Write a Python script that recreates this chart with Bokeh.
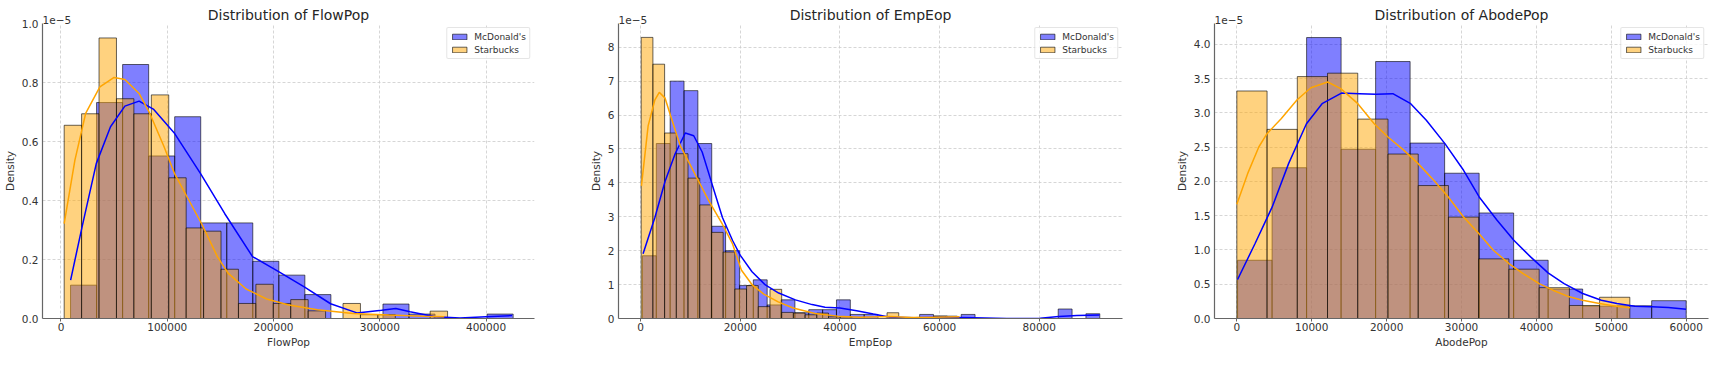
import numpy as np
from bokeh.plotting import figure
from bokeh.layouts import row
from bokeh.models import (FixedTicker, NumeralTickFormatter, Range1d, Title,
                          Legend, LegendItem)
from bokeh.embed import file_html
from bokeh.resources import INLINE

# ---------------- data (densities in units of 1e-5) ----------------
# FlowPop
flow_mc_bin_start, flow_mc_bin_width = 9000, 24500
flow_mc_density = [0.113, 0.732, 0.861, 0.551, 0.684, 0.324, 0.324, 0.194, 0.147,
                   0.081, 0.0, 0.0, 0.049, 0.015, 0.0, 0.0, 0.015]
flow_sb_bin_start, flow_sb_bin_width = 3000, 16400
flow_sb_density = [0.655, 0.694, 0.951, 0.745, 0.694, 0.758, 0.477, 0.307, 0.296,
                   0.167, 0.051, 0.116, 0.051, 0.064, 0.026, 0.0, 0.051, 0.013,
                   0.013, 0.0, 0.0, 0.025]
flow_mc_kde_x = [9060, 19800, 33200, 46600, 60100, 73500, 86900, 107000, 131500,
                 154000, 180200, 204400, 228900, 253700, 278500, 301700, 315100,
                 328500, 352000, 375500, 400000, 424500]
flow_mc_kde_y = [0.13, 0.31, 0.525, 0.65, 0.72, 0.737, 0.71, 0.627, 0.49, 0.356,
                 0.21, 0.16, 0.107, 0.05, 0.019, 0.028, 0.034, 0.023, 0.006,
                 0.002, 0.006, 0.010]
flow_sb_kde_x = [3000, 13100, 23200, 36600, 50000, 60100, 73500, 83600, 97000,
                 107000, 120500, 132200, 147300, 157400, 174200, 194300, 214400,
                 241300, 274800, 308400, 342000, 360700]
flow_sb_kde_y = [0.322, 0.537, 0.695, 0.785, 0.817, 0.81, 0.763, 0.695, 0.582,
                 0.49, 0.40, 0.322, 0.209, 0.153, 0.10, 0.065, 0.046, 0.03,
                 0.017, 0.012, 0.008, 0.006]

# EmpEop
emp_mc_bin_start, emp_mc_bin_width = 350, 2782
emp_mc_density = [1.85, 5.16, 7.0, 6.72, 5.16, 2.72, 2.0, 0.97, 1.14, 0.4, 0.55,
                  0.17, 0.26, 0.26, 0.55, 0.12, 0.12, 0.0, 0.0, 0.0, 0.12, 0.07,
                  0.0, 0.12, 0.0, 0.0, 0.0, 0.0, 0.0, 0.0, 0.28, 0.0, 0.14]
emp_sb_bin_start, emp_sb_bin_width = 100, 2350
emp_sb_density = [8.29, 7.5, 5.47, 4.86, 4.14, 3.35, 2.54, 1.96, 0.87, 0.97, 0.35,
                  0.86, 0.18, 0.16, 0.11, 0.16, 0.05, 0.05, 0.0, 0.0, 0.0, 0.17,
                  0.03, 0.0, 0.0, 0.07, 0.07]
emp_mc_kde_x = [475, 2848, 4882, 6916, 8950, 10645, 12340, 14374, 16408, 18442,
                20000, 22345, 25025, 27705, 31055, 34405, 37000, 40000, 43350,
                46700, 50050, 55000, 60100, 66800, 73500, 80200, 83900, 87570, 92100]
emp_mc_kde_y = [1.91, 2.98, 4.04, 4.86, 5.47, 5.39, 4.91, 3.94, 2.98, 2.30, 1.86,
                1.38, 0.99, 0.75, 0.55, 0.41, 0.33, 0.31, 0.23, 0.13, 0.04, 0.02,
                0.04, 0.02, 0.0, 0.01, 0.06, 0.09, 0.10]
emp_sb_kde_x = [150, 1490, 2850, 3730, 4880, 6240, 7930, 9630, 11660, 13700, 16400,
                18440, 20200, 22400, 24700, 27600, 30600, 35000, 39500, 44000,
                50000, 54400, 58800, 64000]
emp_sb_kde_y = [3.91, 5.68, 6.45, 6.67, 6.5, 5.87, 5.1, 4.62, 4.04, 3.46, 2.78, 2.2,
                1.43, 0.99, 0.72, 0.49, 0.31, 0.15, 0.07, 0.04, 0.06, 0.03, 0.04, 0.05]

# AbodePop
abode_mc_bin_start, abode_mc_bin_width = 100, 4607
abode_mc_density = [0.85, 2.20, 4.10, 2.47, 3.75, 2.56, 2.12, 1.54, 0.85, 0.43,
                    0.18, 0.185, 0.26]
abode_sb_bin_start, abode_sb_bin_width = 0, 4036
abode_sb_density = [3.32, 2.76, 3.53, 3.58, 2.91, 2.40, 1.94, 1.48, 0.87, 0.72,
                    0.45, 0.19, 0.31]
abode_mc_kde_x = [100, 2435, 4722, 6909, 9294, 11382, 13966, 16352, 18588, 20825,
                  23211, 25298, 27783, 30268, 32356, 34742, 36978, 39215, 41551,
                  43688, 46173, 48658, 50746, 53131, 55368, 57604, 59990]
abode_mc_kde_y = [0.569, 1.094, 1.628, 2.260, 2.843, 3.135, 3.290, 3.281, 3.271,
                  3.281, 3.135, 2.892, 2.552, 2.163, 1.774, 1.434, 1.142, 0.899,
                  0.666, 0.510, 0.365, 0.267, 0.219, 0.180, 0.170, 0.160, 0.136]
abode_sb_kde_x = [0, 1441, 2932, 4026, 5915, 8052, 9891, 12127, 13867, 16153, 18340,
                  20179, 22316, 24205, 26292, 28231, 30268, 32306, 34245, 36332,
                  38221, 40358, 42197, 44384, 46173, 48410, 50646, 52485]
abode_sb_kde_y = [1.667, 2.114, 2.503, 2.697, 2.916, 3.193, 3.368, 3.451, 3.354,
                  3.135, 2.843, 2.649, 2.454, 2.260, 2.017, 1.774, 1.482, 1.239,
                  0.996, 0.802, 0.656, 0.510, 0.413, 0.316, 0.267, 0.219, 0.180, 0.156]

series_labels = ["McDonald's", "Starbucks"]
offset_text = "1e\u22125"
FONT = "DejaVu Sans"
TXT = "#333333"
H = 353


def edges(start, width, n):
    return start + width * np.arange(n + 1)


def panel(title, xlabel, mc, sb, mc_kde, sb_kde, xr, yr, xticks, yticks, yfmt,
          fw, bl, br, bt, bb):
    p = figure(frame_width=fw, height=H, title=None,
               x_range=Range1d(*xr), y_range=Range1d(*yr),
               output_backend="svg", toolbar_location=None,
               min_border_left=bl, min_border_right=br, min_border_top=bt,
               min_border_bottom=bb)
    p.outline_line_color = None
    p.background_fill_color = "white"

    # inner row: the "1e-5" offset text at the top-left of the axes
    p.add_layout(Title(text=offset_text, align="left", standoff=0, offset=0,
                       text_font=FONT, text_font_size="10.5px",
                       text_font_style="normal", text_color=TXT), "above")
    # outer row: the main title, pulled down onto the same band
    p.add_layout(Title(text=title, align="center", standoff=-18,
                       text_font=FONT, text_font_size="14px",
                       text_font_style="normal", text_color="#262626"), "above")

    e1 = edges(mc[0], mc[1], len(mc[2]))
    e2 = edges(sb[0], sb[1], len(sb[2]))
    r_mc = p.quad(left=e1[:-1], right=e1[1:], bottom=0, top=mc[2],
                  fill_color="blue", fill_alpha=0.5, line_color="black",
                  line_alpha=0.6, line_width=1)
    r_sb = p.quad(left=e2[:-1], right=e2[1:], bottom=0, top=sb[2],
                  fill_color="orange", fill_alpha=0.5, line_color="black",
                  line_alpha=0.6, line_width=1)
    p.line(mc_kde[0], mc_kde[1], line_color="blue", line_width=1.5)
    p.line(sb_kde[0], sb_kde[1], line_color="orange", line_width=1.5)

    for ax in (p.xaxis, p.yaxis):
        ax.axis_line_color = "#666666"
        ax.axis_line_width = 1.2
        ax.minor_tick_line_color = None
        ax.major_tick_in = 0
        ax.major_tick_line_color = "#666666"
        ax.major_label_text_font = FONT
        ax.major_label_text_font_size = "10.5px"
        ax.major_label_text_color = TXT
        ax.axis_label_text_font = FONT
        ax.axis_label_text_font_size = "10.5px"
        ax.axis_label_text_font_style = "normal"
        ax.axis_label_text_color = TXT
    p.xaxis.ticker = FixedTicker(ticks=xticks)
    p.xaxis.formatter = NumeralTickFormatter(format="0")
    p.xaxis.major_tick_out = 3
    p.xaxis.major_label_standoff = 1
    p.xaxis.axis_label = xlabel
    p.xaxis.axis_label_standoff = 2
    p.yaxis.ticker = FixedTicker(ticks=yticks)
    p.yaxis.formatter = NumeralTickFormatter(format=yfmt)
    p.yaxis.major_tick_out = 0
    p.yaxis.major_label_standoff = 4
    p.yaxis.axis_label = "Density"
    p.yaxis.axis_label_standoff = 3

    for g in (p.xgrid, p.ygrid):
        g.grid_line_color = "#cccccc"
        g.grid_line_dash = "3 2"
        g.grid_line_width = 0.8

    legend = Legend(items=[LegendItem(label=series_labels[0], renderers=[r_mc]),
                           LegendItem(label=series_labels[1], renderers=[r_sb])],
                    location="top_right")
    legend.label_text_font = FONT
    legend.label_text_font_size = "9px"
    legend.label_text_color = TXT
    legend.label_height = 11
    legend.label_standoff = 6
    legend.glyph_width = 18
    legend.glyph_height = 7
    legend.spacing = 2
    legend.padding = 3
    legend.margin = 4
    legend.border_line_color = "#cccccc"
    legend.border_radius = 2
    legend.background_fill_alpha = 0.8
    p.add_layout(legend)
    return p


p1 = panel("Distribution of FlowPop", "FlowPop",
           (flow_mc_bin_start, flow_mc_bin_width, flow_mc_density),
           (flow_sb_bin_start, flow_sb_bin_width, flow_sb_density),
           (flow_mc_kde_x, flow_mc_kde_y), (flow_sb_kde_x, flow_sb_kde_y),
           (-17400, 445600), (0, 1.0),
           [0, 100000, 200000, 300000, 400000], [0, 0.2, 0.4, 0.6, 0.8, 1.0],
           "0.0", 492, 38, 42, 23, 35)
p2 = panel("Distribution of EmpEop", "EmpEop",
           (emp_mc_bin_start, emp_mc_bin_width, emp_mc_density),
           (emp_sb_bin_start, emp_sb_bin_width, emp_sb_density),
           (emp_mc_kde_x, emp_mc_kde_y), (emp_sb_kde_x, emp_sb_kde_y),
           (-4457, 96716), (0, 8.70),
           [0, 20000, 40000, 60000, 80000], [0, 1, 2, 3, 4, 5, 6, 7, 8],
           "0", 504, 42, 34, 23, 31)
p3 = panel("Distribution of AbodePop", "AbodePop",
           (abode_mc_bin_start, abode_mc_bin_width, abode_mc_density),
           (abode_sb_bin_start, abode_sb_bin_width, abode_sb_density),
           (abode_mc_kde_x, abode_mc_kde_y), (abode_sb_kde_x, abode_sb_kde_y),
           (-2982, 62970), (0, 4.305),
           [0, 10000, 20000, 30000, 40000, 50000, 60000],
           [0, 0.5, 1.0, 1.5, 2.0, 2.5, 3.0, 3.5, 4.0],
           "0.0", 494, 58, 3, 23, 35)

layout = row(p1, p2, p3)
open("out.html", "w").write(file_html(layout, INLINE))
